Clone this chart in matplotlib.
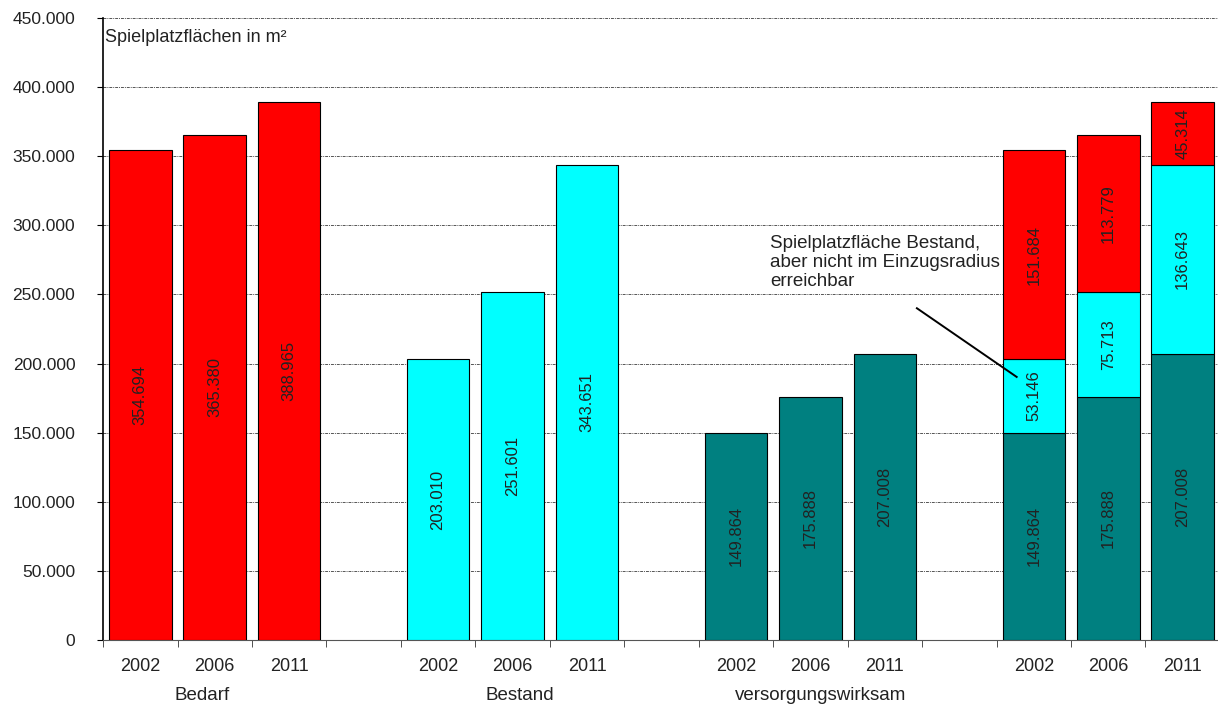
import matplotlib.pyplot as plt
from matplotlib.ticker import FuncFormatter
import matplotlib.transforms as mtransforms

plt.rcParams['font.family'] = ['Liberation Sans', 'DejaVu Sans']

# Spielplatzflächen in m² je Jahr
years = ['2002', '2006', '2011']
bedarf = [354694, 365380, 388965]
bestand = [203010, 251601, 343651]
versorgt = [149864, 175888, 207008]
nicht_erreichbar = [53146, 75713, 136643]
fehlend = [151684, 113779, 45314]
groups = ['Bedarf', 'Bestand', 'versorgungswirksam']

RED = '#ff0000'
CYAN = '#00ffff'
TEAL = '#008080'
TXT = '#222222'


def fmt(v):
    return f'{v:,}'.replace(',', '.')


fig = plt.figure(figsize=(12.18, 7.07), dpi=100)
ax = fig.add_axes([0.0846, 0.0948, 0.917, 0.8798])

w = 0.84


def label(x, bottom, h):
    ax.text(x, bottom + h / 2, fmt(h), rotation=90, ha='center', va='center',
            fontsize=12, color=TXT)


# single bars: Bedarf, Bestand, versorgungswirksam
for g, (vals, col) in enumerate([(bedarf, RED), (bestand, CYAN), (versorgt, TEAL)]):
    for i, v in enumerate(vals):
        x = g * 4 + i + 0.5
        ax.bar(x, v, width=w, color=col, edgecolor='black', linewidth=0.8, zorder=3)
        label(x, 0, v)

# stacked bars
for i in range(3):
    x = 12 + i + 0.5
    bottom = 0
    for v, col in [(versorgt[i], TEAL), (nicht_erreichbar[i], CYAN), (fehlend[i], RED)]:
        ax.bar(x, v, bottom=bottom, width=w, color=col, edgecolor='black',
               linewidth=0.8, zorder=3)
        label(x, bottom, v)
        bottom += v

ax.set_xlim(0, 15)
ax.set_ylim(0, 450000)
ax.set_yticks(range(0, 450001, 50000))
ax.yaxis.set_major_formatter(FuncFormatter(lambda v, p: fmt(int(v))))
ax.tick_params(axis='y', labelsize=12.5, length=4, pad=16, colors='black',
               labelcolor=TXT)

centers = [g * 4 + i + 0.5 for g in range(4) for i in range(3)]
ax.set_xticks(centers)
ax.set_xticklabels(years * 4)
ax.set_xticks(range(16), minor=True)
ax.tick_params(axis='x', which='major', length=0, pad=13, labelsize=13,
               labelcolor=TXT)
ax.tick_params(axis='x', which='minor', length=5, color='#333333')

trans = mtransforms.blended_transform_factory(ax.transData, ax.transAxes)
for xpos, name in zip([1.33, 5.6, 9.64], groups):
    ax.text(xpos, -0.09, name, transform=trans, ha='center', va='center',
            fontsize=13.5, color=TXT)

ax.yaxis.grid(True, color='#555555', linestyle=(0, (3, 1, 1, 1)), linewidth=0.7, zorder=0)
ax.set_axisbelow(True)
for s in ['top', 'right']:
    ax.spines[s].set_visible(False)
ax.spines['left'].set_linewidth(1.2)
ax.spines['bottom'].set_color('#555555')

ax.text(0.002, 0.982, 'Spielplatzflächen in m²', transform=ax.transAxes,
        ha='left', va='top', fontsize=13, color=TXT)

# Hinweis auf den nicht erreichbaren Bestand
ax.text(8.96, 293000, 'Spielplatzfläche Bestand,\naber nicht im Einzugsradius\nerreichbar',
        ha='left', va='top', fontsize=13.5, color=TXT, linespacing=1.15)
ax.plot([10.93, 12.27], [240000, 190300], color='black', lw=1.4, zorder=4)

fig.savefig('out.png', dpi=100)
